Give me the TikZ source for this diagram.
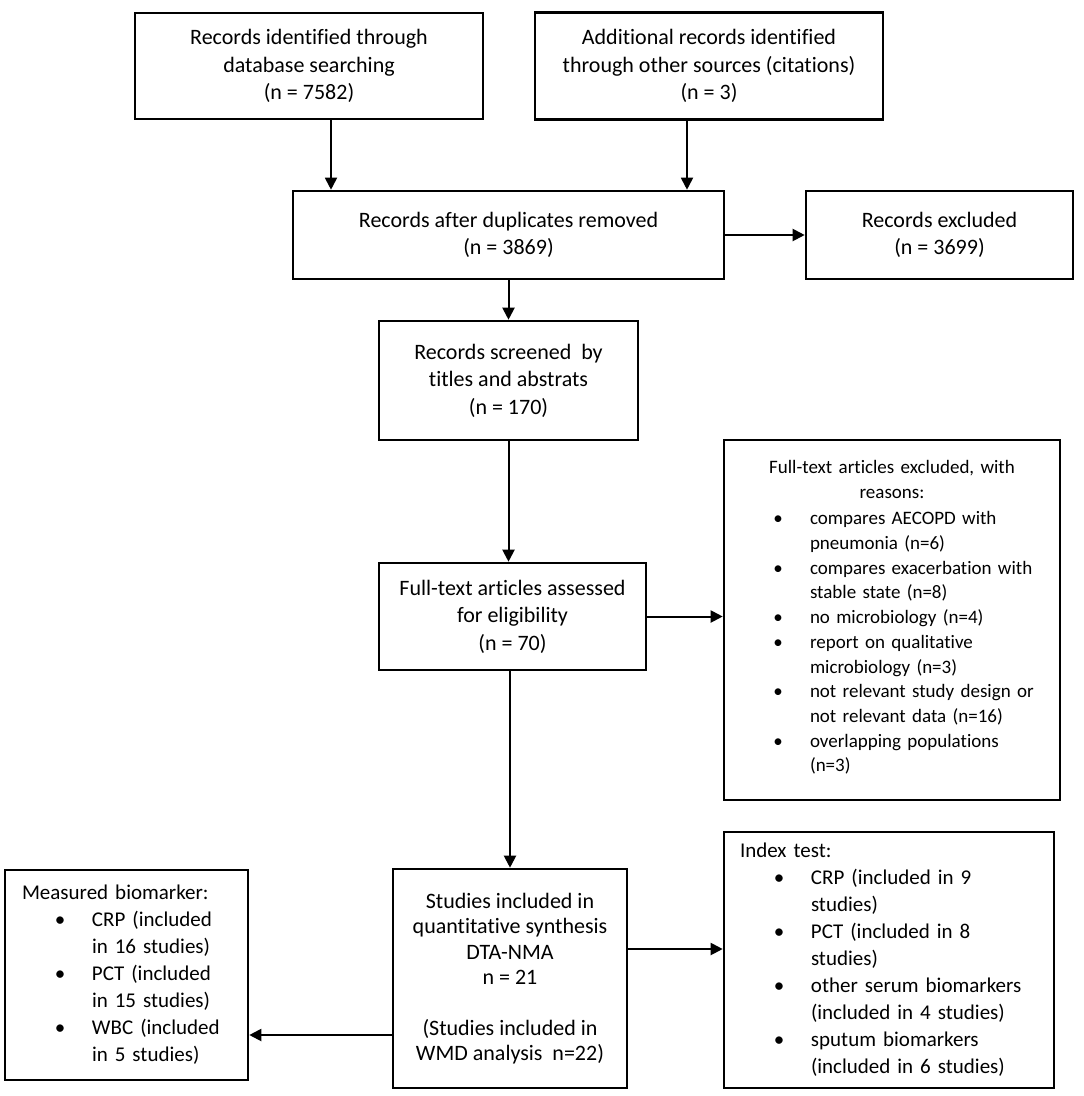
\documentclass[tikz,border=0pt]{standalone}
\usepackage{fontspec}
\setmainfont{Carlito}[Ligatures=NoCommon]
\usetikzlibrary{arrows.meta}
\newcommand{\bul}{\makebox[10pt][c]{\textbullet}}
\begin{document}
\begin{tikzpicture}[x=1pt, y=-1pt,
        box/.style={draw, line width=2.6pt, align=center, inner sep=0pt,
            font=\fontsize{22}{27.5}\selectfont},
        listbox/.style={box, align=left, font=\fontsize{21}{27}\selectfont},
        flow/.style={line width=2pt, -{Triangle[length=12pt, width=12pt]}}]
    \useasboundingbox (0,0) rectangle (1084,1096);
    \fill[white] (0,0) rectangle (1084,1096);

    % identification
    \node[box, minimum width=348pt, minimum height=106pt] (ident) at (309,66)
        {Records identified through\\database searching\\(n = 7582)};
    \node[box, minimum width=348pt, minimum height=107pt] (other) at (709,66)
        {Additional records identified\\through other sources (citations)\\(n = 3)};

    % screening
    \node[box, minimum width=431pt, minimum height=88pt] (dedup) at (508.5,235)
        {Records after duplicates removed\\(n = 3869)};
    \node[box, minimum width=267pt, minimum height=88pt] (recexcl) at (939.5,235)
        {Records excluded\\(n = 3699)};
    \node[box, minimum width=259pt, minimum height=119pt] (screen) at (508.5,380.5)
        {Records screened\ \ by\\titles and abstrats\\(n = 170)};

    % eligibility
    \node[box, minimum width=267pt, minimum height=107pt] (full) at (512.5,616.5)
        {Full-text articles assessed\\for eligibility\\(n = 70)};
    \node[box, minimum width=336pt, minimum height=360pt, text width=316pt,
            font=\fontsize{19}{24.7}\selectfont] (fullexcl) at (892,620)
        {Full-text articles excluded, with\\reasons:\\[1.5pt]
         \makebox[316pt][l]{\hspace{39pt}\begin{tabular}[t]{@{}l@{\hspace{27pt}}l@{}}
            \bul & compares AECOPD with\\
                 & pneumonia (n=6)\\
            \bul & compares exacerbation with\\
                 & stable state (n=8)\\
            \bul & no microbiology (n=4)\\
            \bul & report on qualitative\\
                 & microbiology (n=3)\\
            \bul & not relevant study design or\\
                 & not relevant data (n=16)\\
            \bul & overlapping populations\\
                 & (n=3)
         \end{tabular}}};

    % included
    \node[box, minimum width=234pt, minimum height=219pt,
            font=\fontsize{22}{25.5}\selectfont] (incl) at (510,978.5)
        {Studies included in\\quantitative synthesis\\DTA-NMA\\n = 21\\[25pt]
         (Studies included in\\WMD analysis\ \ n=22)};
    \node[listbox, minimum height=256pt, inner xsep=16pt, text width=298pt] (index) at (889,960)
        {\begin{tabular}{@{\hspace{34pt}}l@{\hspace{27pt}}l@{}}
            \multicolumn{2}{@{}l@{}}{Index test:}\\
            \bul & CRP (included in 9\\
                 & studies)\\
            \bul & PCT (included in 8\\
                 & studies)\\
            \bul & other serum biomarkers\\
                 & (included in 4 studies)\\
            \bul & sputum biomarkers\\
                 & (included in 6 studies)
         \end{tabular}};
    \node[listbox, minimum height=210pt, inner xsep=17pt, text width=209pt] (measured) at (126.5,975)
        {\begin{tabular}{@{\hspace{33pt}}l@{\hspace{27pt}}l@{}}
            \multicolumn{2}{@{}l@{}}{Measured biomarker:}\\
            \bul & CRP (included\\
                 & in 16 studies)\\
            \bul & PCT (included\\
                 & in 15 studies)\\
            \bul & WBC (included\\
                 & in 5 studies)
         \end{tabular}};

    % connectors
    \draw[flow, line width=1.8pt] ([xshift=22pt]ident.south) -- ([xshift=22pt]ident.south |- dedup.north);
    \draw[flow, line width=1.8pt] ([xshift=-22pt]other.south) -- ([xshift=-22pt]other.south |- dedup.north);
    \draw[flow] (dedup.east) -- (recexcl.west);
    \draw[flow] (dedup.south) -- (screen.north);
    \draw[flow] (screen.south) -- (screen.south |- full.north);
    \draw[flow] (full.east) -- (full.east -| fullexcl.west);
    \draw[flow] (incl.north |- full.south) -- (incl.north);
    \draw[flow] ([yshift=29.5pt]incl.east) -- ([yshift=29.5pt]incl.east -| index.west);
    \draw[flow] ([yshift=-56.5pt]incl.west) -- ([yshift=-56.5pt]incl.west -| measured.east);
\end{tikzpicture}
\end{document}
